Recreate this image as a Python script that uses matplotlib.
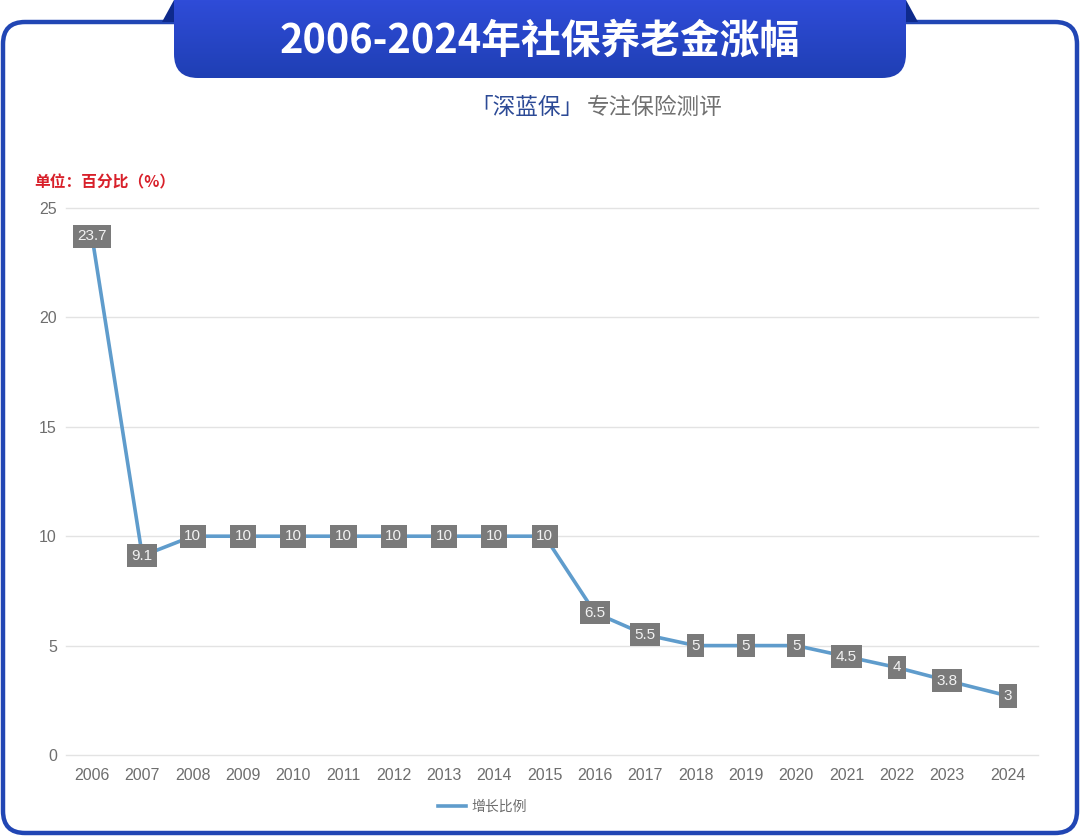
import matplotlib
matplotlib.use('Agg')
import matplotlib.pyplot as plt
import numpy as np
from matplotlib.patches import FancyBboxPatch, Polygon
from matplotlib.lines import Line2D

plt.rcParams['font.family'] = ['Noto Sans CJK SC', 'DejaVu Sans']

years = [str(y) for y in range(2006, 2025)]
values = [23.7, 9.1, 10, 10, 10, 10, 10, 10, 10, 10, 6.5, 5.5, 5, 5, 5, 4.5, 4, 3.4, 2.7]
point_labels = ['23.7', '9.1', '10', '10', '10', '10', '10', '10', '10', '10', '6.5', '5.5', '5', '5', '5', '4.5', '4', '3.8', '3']
y_ticks = [0, 5, 10, 15, 20, 25]

W, H = 1080, 838
fig = plt.figure(figsize=(W/100, H/100), dpi=100, facecolor='white')

# page overlay in pixel coordinates
bg = fig.add_axes([0, 0, 1, 1], zorder=0)
bg.set_xlim(0, W); bg.set_ylim(H, 0); bg.axis('off')
bg.add_patch(FancyBboxPatch((3, 22), W-6, H-27, boxstyle='round,pad=0,rounding_size=22',
                            fc='white', ec='#2146b4', lw=3.2))
bg.add_patch(Polygon([[174, 0], [162, 22], [174, 22]], fc='#0e2a8c', ec='none'))
bg.add_patch(Polygon([[906, 0], [918, 22], [906, 22]], fc='#0e2a8c', ec='none'))
grad = np.linspace(0, 1, 64)[:, None]
c0 = np.array([0x2f, 0x4c, 0xd8])/255
c1 = np.array([0x1f, 0x3f, 0xb4])/255
img = c0[None, None, :]*(1-grad[..., None]) + c1[None, None, :]*grad[..., None]
banner = FancyBboxPatch((174, -30), 732, 108, boxstyle='round,pad=0,rounding_size=24', fc='none', ec='none')
bg.add_patch(banner)
im = bg.imshow(img, extent=[174, 906, 78, 0], aspect='auto', zorder=2)
im.set_clip_path(banner)
bg.set_xlim(0, W); bg.set_ylim(H, 0)
bg.text(540, 41, '2006-2024年社保养老金涨幅', color='white', fontsize=28.6, fontweight='bold',
        ha='center', va='center', zorder=3)
bg.text(470, 107, '「深蓝保」', color='#2c4a96', fontsize=16.3, ha='left', va='center', zorder=3)
bg.text(587, 107, '专注保险测评', color='#707070', fontsize=16.3, ha='left', va='center', zorder=3)
bg.text(34, 182, '单位：百分比（%）', color='#d8202a', fontsize=11.3, fontweight='bold', ha='left', va='center', zorder=3)

# chart
left, right, top, bottom = 66, 1038, 208, 755
ax = fig.add_axes([left/W, 1-bottom/H, (right-left)/W, (bottom-top)/H], zorder=1, facecolor='none')
x = np.arange(len(years), dtype=float)
x[-1] += 0.21  # the reference leaves a wider gap before the last category
step = 50.3
ax.set_xlim(-(92-left)/step, (right-92)/step)
ax.set_ylim(0, 25)
ax.plot(x, values, color='#5f9ccc', lw=2.6, solid_joinstyle='round', zorder=3)
for xi, v, lab in zip(x, values, point_labels):
    ax.text(xi, v, lab, color='#f2f2f2', fontsize=11, ha='center', va='center', zorder=4,
            fontfamily=['Liberation Sans', 'DejaVu Sans'],
            bbox=dict(boxstyle='square,pad=0.3', fc='#7a7a7a', ec='none'))
ax.set_yticks(y_ticks)
ax.set_xticks(x, years)
ax.grid(axis='y', color='#e3e3e3', lw=1, clip_on=False)
for g in ax.get_ygridlines():
    g.set_clip_on(False)
ax.set_axisbelow(True)
for s in ax.spines.values():
    s.set_visible(False)
ax.tick_params(length=0, labelsize=11.5, labelcolor='#6e6e6e')
ax.tick_params(axis='x', pad=9)
ax.tick_params(axis='y', pad=6.5)
for t in ax.get_xticklabels() + ax.get_yticklabels():
    t.set_fontfamily(['Liberation Sans', 'DejaVu Sans'])

handle = Line2D([], [], color='#5f9ccc', lw=2.6)
leg = fig.legend([handle], ['增长比例'], loc='center', bbox_to_anchor=(482.5/W, 1-807/H), frameon=False,
                 fontsize=10, labelcolor='#6e6e6e', handlelength=2.0, handletextpad=0.35)

fig.savefig('out.png', dpi=100, facecolor='white')
